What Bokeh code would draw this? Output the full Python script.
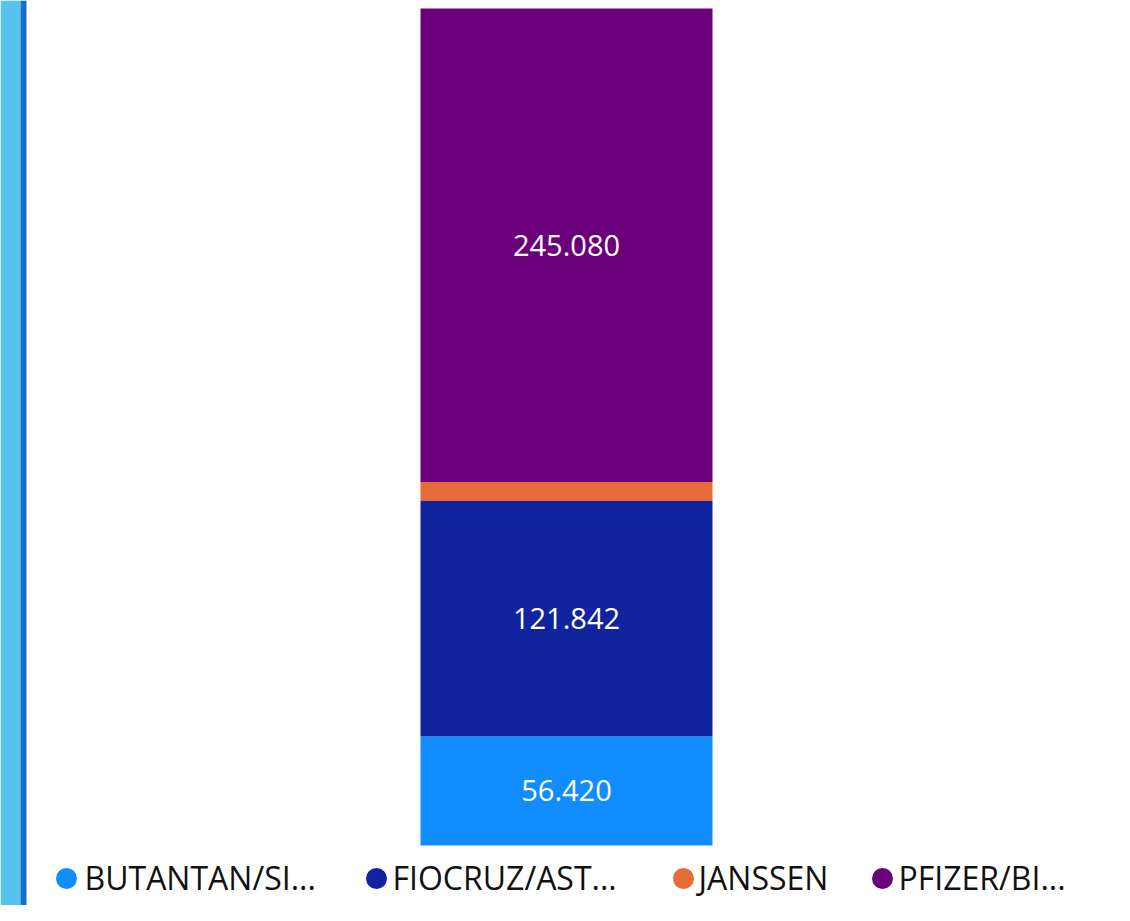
from bokeh.plotting import figure
from bokeh.models import Range1d, ColumnDataSource, BoxAnnotation
from bokeh.core.properties import value
from bokeh.embed import file_html
from bokeh.resources import INLINE

# ---- data ----
categories = ["BUTANTAN/SINOVAC", "FIOCRUZ/ASTRAZENECA", "JANSSEN", "PFIZER/BIONTECH"]
legend_labels = ["BUTANTAN/SI...", "FIOCRUZ/AST...", "JANSSEN", "PFIZER/BI..."]
doses = [56420, 121842, 9800, 245080]
show_label = [True, True, False, True]
colors = ["#118DFF", "#12239E", "#E66C37", "#6B007B"]

# ---- layout (pixels inside the figure) ----
W, H = 1114, 905
bar_top_px, bar_bottom_px = 8, 845
bar_center_px, bar_width_px = 566, 292
legend_circle_x = [66, 376, 683, 882]
legend_text_x = [84, 392, 698, 898]
legend_y = 878

total = sum(doses)
scale = (bar_bottom_px - bar_top_px) / total
y_range = Range1d(-(H - bar_bottom_px) / scale, total + bar_top_px / scale)
x_range = Range1d(-bar_center_px / bar_width_px, (W - bar_center_px) / bar_width_px)

p = figure(width=W, height=H, x_range=x_range, y_range=y_range,
           output_backend="svg", toolbar_location=None, min_border=0,
           x_axis_location=None, y_axis_location=None)
p.grid.visible = False
p.outline_line_color = None
p.background_fill_color = "white"
p.border_fill_color = "white"
p.extra_x_ranges = {"px": Range1d(0, W)}
p.extra_y_ranges = {"px": Range1d(H, 0)}

# left decorative strip
p.add_layout(BoxAnnotation(left=0, right=20, left_units="screen", right_units="screen",
                           fill_color="#58C2EE", fill_alpha=1, line_color=None))
p.add_layout(BoxAnnotation(left=20, right=26, left_units="screen", right_units="screen",
                           fill_color="#1271C7", fill_alpha=1, line_color=None))

# stacked bar
bottoms, tops = [], []
acc = 0
for d in doses:
    bottoms.append(acc)
    acc += d
    tops.append(acc)

src = ColumnDataSource(dict(x=[0] * len(doses), bottom=bottoms, top=tops,
                            color=colors, cat=categories))
p.vbar(x="x", bottom="bottom", top="top", width=1, fill_color="color",
       line_color=None, source=src)

# value labels
lab_y = [(b + t) / 2 for b, t, s in zip(bottoms, tops, show_label) if s]
lab_t = [f"{d:,}".replace(",", ".") for d, s in zip(doses, show_label) if s]
p.text(x=[0] * len(lab_y), y=lab_y, text=lab_t, text_color="white",
       text_font=value("Open Sans"), text_font_size="29px",
       text_align="center", text_baseline="middle")

# legend
p.scatter(x=legend_circle_x, y=[legend_y] * 4, size=21, color=colors,
          line_color=None, x_range_name="px", y_range_name="px")
p.text(x=legend_text_x, y=[legend_y - 1] * 4, text=legend_labels, text_color="#111111",
       text_font=value("Open Sans"), text_font_size="32px",
       text_align="left", text_baseline="middle",
       x_range_name="px", y_range_name="px")

open("out.html", "w").write(file_html(p, INLINE))
